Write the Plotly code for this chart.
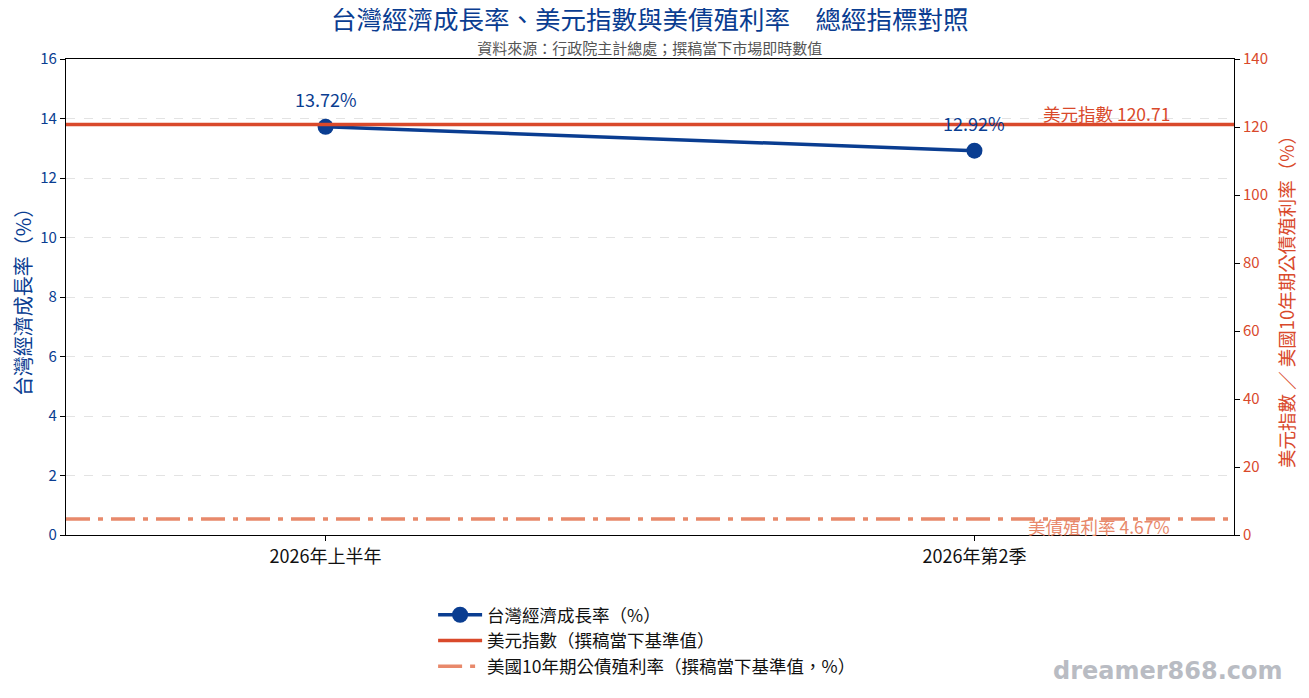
import plotly.graph_objects as go

periods = ["2026年上半年", "2026年第2季"]
gdp_growth = [13.72, 12.92]
usd_index = 120.71
us10y_yield = 4.67

left_ticks = [0, 2, 4, 6, 8, 10, 12, 14, 16]
right_ticks = [0, 20, 40, 60, 80, 100, 120, 140]

BLUE = "#0a3d91"
RED = "#d9492b"
SALMON = "#e8896b"
FONT = "Noto Sans CJK TC, Noto Sans CJK SC, sans-serif"

fig = go.Figure()

fig.add_trace(go.Scatter(
    x=periods, y=gdp_growth, mode="lines+markers",
    name="台灣經濟成長率（%）",
    line=dict(color=BLUE, width=3.5),
    marker=dict(size=16, color=BLUE),
    legendrank=1,
))

# reference lines on the right axis
fig.add_shape(type="line", xref="paper", x0=0, x1=1, yref="y2",
              y0=usd_index, y1=usd_index,
              line=dict(color=RED, width=3.5),
              showlegend=True, name="美元指數（撰稿當下基準值）", legendrank=2)
fig.add_shape(type="line", xref="paper", x0=0, x1=1, yref="y2",
              y0=us10y_yield, y1=us10y_yield,
              line=dict(color=SALMON, width=3.5, dash="24px,8px,5px,8px"),
              showlegend=True, name="美國10年期公債殖利率（撰稿當下基準值，%）", legendrank=3)

# invisible trace so the secondary axis exists
fig.add_trace(go.Scatter(x=periods, y=[None, None], yaxis="y2",
                         showlegend=False, hoverinfo="skip"))

for p, v in zip(periods, gdp_growth):
    fig.add_annotation(x=p, y=v, text=f"{v:.2f}%", showarrow=False,
                       yanchor="bottom", yshift=13,
                       font=dict(color=BLUE, size=18))

fig.add_annotation(xref="paper", x=0.947, yref="y2", y=usd_index,
                   text=f"美元指數 {usd_index:.2f}", showarrow=False,
                   xanchor="right", yanchor="bottom", yshift=-3,
                   font=dict(color=RED, size=17.5))
fig.add_annotation(xref="paper", x=0.947, yref="y2", y=us10y_yield,
                   text=f"美債殖利率 {us10y_yield:.2f}%", showarrow=False,
                   xanchor="right", yanchor="top", yshift=7,
                   font=dict(color=SALMON, size=17.5))

# title + subtitle as one two-line text block
fig.add_annotation(
    xref="paper", yref="paper", x=0.5, y=1.0, yshift=-1,
    text=("<span style='font-size:25.5px'>台灣經濟成長率、美元指數與美債殖利率　總經指標對照</span>"
          "<br><span style='font-size:15px;color:#555555'>資料來源：行政院主計總處；撰稿當下市場即時數值</span>"),
    showarrow=False, yanchor="bottom",
    font=dict(color=BLUE, size=19))
fig.add_annotation(xref="paper", yref="paper", x=1.044, y=-0.286,
                   text="<b>dreamer868.com</b>", showarrow=False,
                   xanchor="right", yanchor="middle",
                   font=dict(color="#b9bcc3", size=24, family="DejaVu Sans"))

# page body adds an 8px margin, so the figure is sized 1301x690
fig.update_layout(
    width=1301, height=690,
    margin=dict(l=58, r=75, t=51, b=163, autoexpand=False),
    paper_bgcolor="white", plot_bgcolor="white",
    font=dict(family=FONT, color="#111111"),
    xaxis=dict(
        type="category", range=[-0.4, 1.4], automargin=False,
        showline=True, linecolor="black", linewidth=1.2, mirror=True,
        ticks="outside", ticklen=5, tickcolor="black",
        tickfont=dict(size=18, color="#111111"), showgrid=False,
    ),
    yaxis=dict(
        range=[0, 16], tickvals=left_ticks, automargin=False,
        title=dict(text="台灣經濟成長率（%）", font=dict(color=BLUE, size=20), standoff=9),
        tickfont=dict(color=BLUE, size=15),
        showline=True, linecolor="black", linewidth=1.2, mirror=True,
        ticks="outside", ticklen=5, tickcolor="black",
        showgrid=True, gridcolor="#e3e3e3", griddash="dash", zeroline=False,
    ),
    yaxis2=dict(
        overlaying="y", side="right", range=[0, 140], tickvals=right_ticks,
        automargin=False,
        title=dict(text="美元指數 ／ 美國10年期公債殖利率（%）", font=dict(color=RED, size=18.5), standoff=14),
        tickfont=dict(color=RED, size=15),
        ticks="outside", ticklen=5, tickcolor="black",
        showgrid=False, zeroline=False,
    ),
    legend=dict(
        x=0.3143, y=-0.13, xanchor="left", yanchor="top",
        font=dict(size=17.5, color="#111111"), bgcolor="rgba(0,0,0,0)",
        itemwidth=44,
    ),
    showlegend=True,
)

fig.write_html("out.html")
